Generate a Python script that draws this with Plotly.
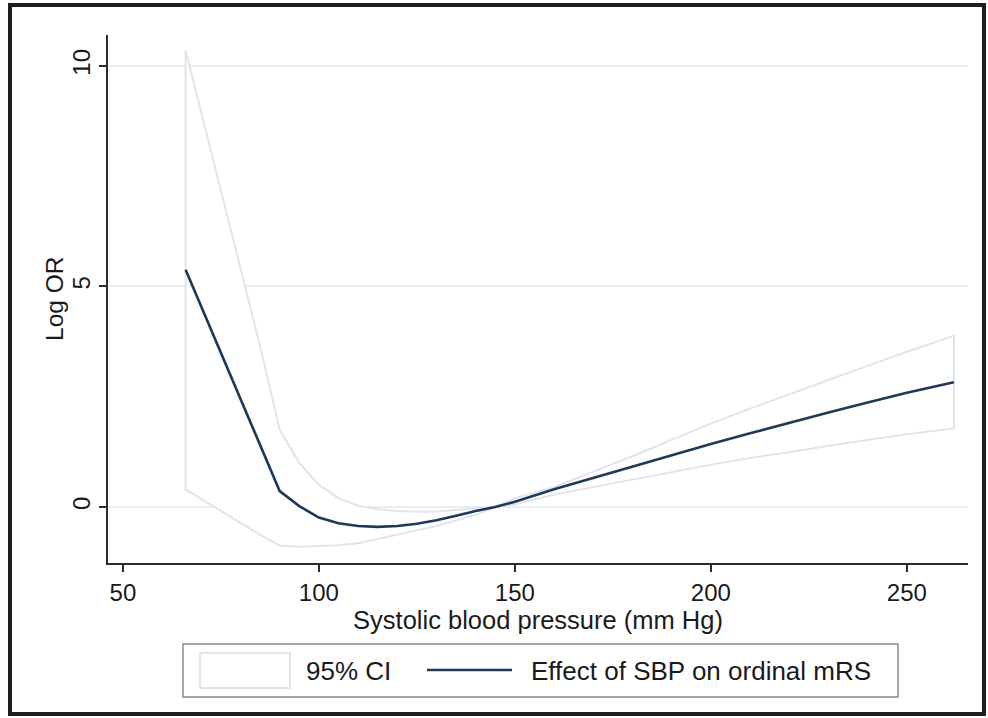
import plotly.graph_objects as go

# Data
sbp = [66, 70, 75, 80, 85, 90, 95, 100, 105, 110, 115, 120, 125, 130, 135, 140, 145,
       150, 160, 170, 180, 190, 200, 210, 220, 230, 240, 250, 262]
log_or = [5.38, 4.55, 3.50, 2.45, 1.40, 0.36, 0.02, -0.24, -0.37, -0.43, -0.45, -0.43,
          -0.38, -0.30, -0.20, -0.09, 0.0, 0.12, 0.40, 0.66, 0.92, 1.18, 1.43, 1.67,
          1.91, 2.14, 2.37, 2.59, 2.83]
ci_upper = [10.35, 8.95, 7.20, 5.45, 3.65, 1.75, 1.00, 0.50, 0.20, 0.03, -0.05, -0.09,
            -0.11, -0.10, -0.07, -0.04, 0.0, 0.20, 0.45, 0.80, 1.15, 1.52, 1.89, 2.23,
            2.56, 2.88, 3.20, 3.52, 3.88]
ci_lower = [0.40, 0.18, -0.09, -0.36, -0.63, -0.88, -0.90, -0.89, -0.87, -0.82, -0.72,
            -0.63, -0.53, -0.43, -0.31, -0.18, 0.0, 0.06, 0.28, 0.45, 0.61, 0.79, 0.96,
            1.11, 1.24, 1.39, 1.52, 1.65, 1.78]

x_ticks = [50, 100, 150, 200, 250]
y_ticks = [0, 5, 10]
legend_labels = ["95% CI", "Effect of SBP on ordinal mRS"]

FONT = "Liberation Sans, Arial, sans-serif"
NAVY = "#1b3a5a"
CI_LINE = "#e0e4ec"
TXT = "#1a1a1a"

fig = go.Figure()

# CI as closed polygon
poly_x = sbp + sbp[::-1] + [sbp[0]]
poly_y = ci_upper + ci_lower[::-1] + [ci_upper[0]]
fig.add_trace(go.Scatter(
    x=poly_x, y=poly_y, mode="lines", fill="toself",
    fillcolor="rgba(255,255,255,1)",
    line=dict(color=CI_LINE, width=2),
    name=legend_labels[0], hoverinfo="skip", showlegend=False))

fig.add_trace(go.Scatter(
    x=sbp, y=log_or, mode="lines",
    line=dict(color=NAVY, width=2.6),
    name=legend_labels[1], showlegend=False))

L, R, T, B = 108, 20, 35, 155
W, H = 988, 718
pw, ph = W - L - R, H - T - B

def px_x(px):
    return (px - L) / pw

def px_y(py):
    return (H - B - py) / ph

shapes = [
    # outer frame
    dict(type="rect", xref="paper", yref="paper",
         x0=px_x(10), x1=px_x(984), y0=px_y(714), y1=px_y(5),
         line=dict(color="#1e1e1e", width=4), fillcolor="rgba(0,0,0,0)", layer="below"),
    # legend box
    dict(type="rect", xref="paper", yref="paper",
         x0=px_x(183), x1=px_x(898), y0=px_y(697), y1=px_y(644),
         line=dict(color="#8a8a8a", width=1.5), fillcolor="white"),
    # CI key
    dict(type="rect", xref="paper", yref="paper",
         x0=px_x(200), x1=px_x(290), y0=px_y(688), y1=px_y(653),
         line=dict(color=CI_LINE, width=2), fillcolor="white"),
    # line key
    dict(type="line", xref="paper", yref="paper",
         x0=px_x(427), x1=px_x(512), y0=px_y(670), y1=px_y(670),
         line=dict(color=NAVY, width=2.6)),
]

annotations = [
    dict(text=legend_labels[0], xref="paper", yref="paper", x=px_x(304), y=px_y(671),
         xanchor="left", yanchor="middle", showarrow=False,
         font=dict(family=FONT, size=26, color=TXT)),
    dict(text=legend_labels[1], xref="paper", yref="paper", x=px_x(529), y=px_y(671),
         xanchor="left", yanchor="middle", showarrow=False,
         font=dict(family=FONT, size=26, color=TXT)),
    dict(text="Log OR", xref="paper", yref="paper", x=px_x(54), y=0.5,
         xanchor="center", yanchor="middle", textangle=-90, showarrow=False,
         font=dict(family=FONT, size=24.5, color=TXT)),
]

fig.update_layout(
    width=W, height=H,
    margin=dict(l=L, r=R, t=T, b=B),
    paper_bgcolor="white", plot_bgcolor="white",
    font=dict(family=FONT, size=24, color=TXT),
    showlegend=False,
    xaxis=dict(
        range=[46.2, 265.6],
        tickvals=x_ticks, ticktext=[str(v) for v in x_ticks],
        showgrid=False, zeroline=False,
        showline=True, linecolor="#2b2b2b", linewidth=1.5,
        ticks="outside", ticklen=7, tickwidth=1.5, tickcolor="#2b2b2b",
        tickfont=dict(size=24),
        title=dict(text="Systolic blood pressure (mm Hg)", font=dict(size=25.5), standoff=1),
    ),
    yaxis=dict(
        range=[-1.27, 10.70],
        tickvals=y_ticks, ticktext=[str(v) for v in y_ticks],
        tickangle=-90,
        showgrid=True, gridcolor="#e9edf2", gridwidth=1.5,
        zeroline=False,
        showline=True, linecolor="#2b2b2b", linewidth=1.5,
        ticks="outside", ticklen=7, tickwidth=1.5, tickcolor="#2b2b2b",
        tickfont=dict(size=24),
    ),
    shapes=shapes,
    annotations=annotations,
)

fig.write_html("out.html")
